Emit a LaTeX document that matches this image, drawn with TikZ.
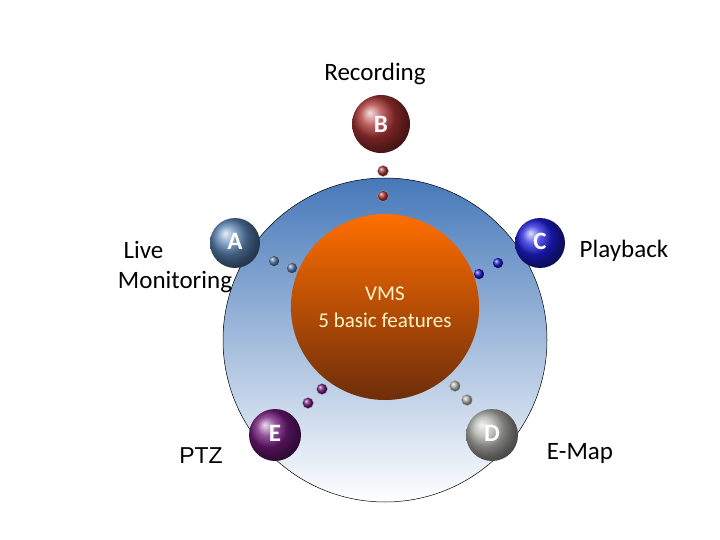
\documentclass[tikz,border=0pt]{standalone}
\usepackage{fontspec}
\setmainfont{Carlito}
\newfontfamily\arialf{Liberation Sans}
\usetikzlibrary{shapes.geometric}
\begin{document}
\begin{tikzpicture}[x=1pt,y=-1pt,
  ball/.style={circle,minimum size=#1,inner sep=0pt,font=\bfseries\fontsize{25}{25}\selectfont,text=white},
  dot/.style={circle,minimum size=11,inner sep=0pt,draw=gray!60,line width=0.3pt},
  lbl/.style={font=\fontsize{25}{30}\selectfont,align=center}]
\useasboundingbox (0,0) rectangle (720,540);
\shade[top color={rgb,255:red,70;green,120;blue,185},bottom color=white,draw=black,line width=0.5pt] (385,340) circle (162);
\node[ellipse,minimum width=160,minimum height=186,inner sep=0pt,top color={rgb,255:red,255;green,110;blue,0},bottom color={rgb,255:red,110;green,45;blue,10},align=center,text={rgb,255:red,255;green,245;blue,200},font=\fontsize{21}{27}\selectfont] (vms) at (385,307) {VMS\\5 basic features};
\node[ball=58,ball color={rgb,255:red,170;green,50;blue,50}] (B) at (381,124) {B};
\node[ball=50,ball color={rgb,255:red,90;green,130;blue,180}] (A) at (235,243) {\raisebox{4pt}{A}};
\node[ball=50,ball color={rgb,255:red,30;green,30;blue,220}] (C) at (540,243) {\raisebox{4pt}{C}};
\node[ball=52,ball color={rgb,255:red,175;green,175;blue,170}] (D) at (492,435) {\raisebox{4pt}{D}};
\node[ball=52,ball color={rgb,255:red,115;green,25;blue,125}] (E) at (275,435) {\raisebox{4pt}{E}};
\node[dot,ball color={rgb,255:red,170;green,50;blue,50}] (b1) at (383,171) {};
\node[dot,ball color={rgb,255:red,170;green,50;blue,50}] (b2) at (383,196) {};
\node[dot,ball color={rgb,255:red,80;green,120;blue,170}] (a1) at (274,261) {};
\node[dot,ball color={rgb,255:red,80;green,120;blue,170}] (a2) at (292,268) {};
\node[dot,ball color={rgb,255:red,20;green,20;blue,210}] (c1) at (498,263) {};
\node[dot,ball color={rgb,255:red,20;green,20;blue,210}] (c2) at (479,274) {};
\node[dot,ball color={rgb,255:red,175;green,175;blue,170}] (d1) at (455,386) {};
\node[dot,ball color={rgb,255:red,175;green,175;blue,170}] (d2) at (467,400) {};
\node[dot,ball color={rgb,255:red,115;green,30;blue,125}] (e1) at (322,389) {};
\node[dot,ball color={rgb,255:red,115;green,30;blue,125}] (e2) at (308,403) {};
\node[lbl] (lr) at (375,74) {Recording};
\node[lbl] (ll) at (175,267) {Live\phantom{iiiiiiiiiii}\\Monitoring};
\node[lbl] (lp) at (624,251) {Playback};
\node[lbl,font=\arialf\fontsize{23}{27}\selectfont] (lz) at (201,456) {PTZ};
\node[lbl] (le) at (580,453) {E-Map};
\end{tikzpicture}
\end{document}
